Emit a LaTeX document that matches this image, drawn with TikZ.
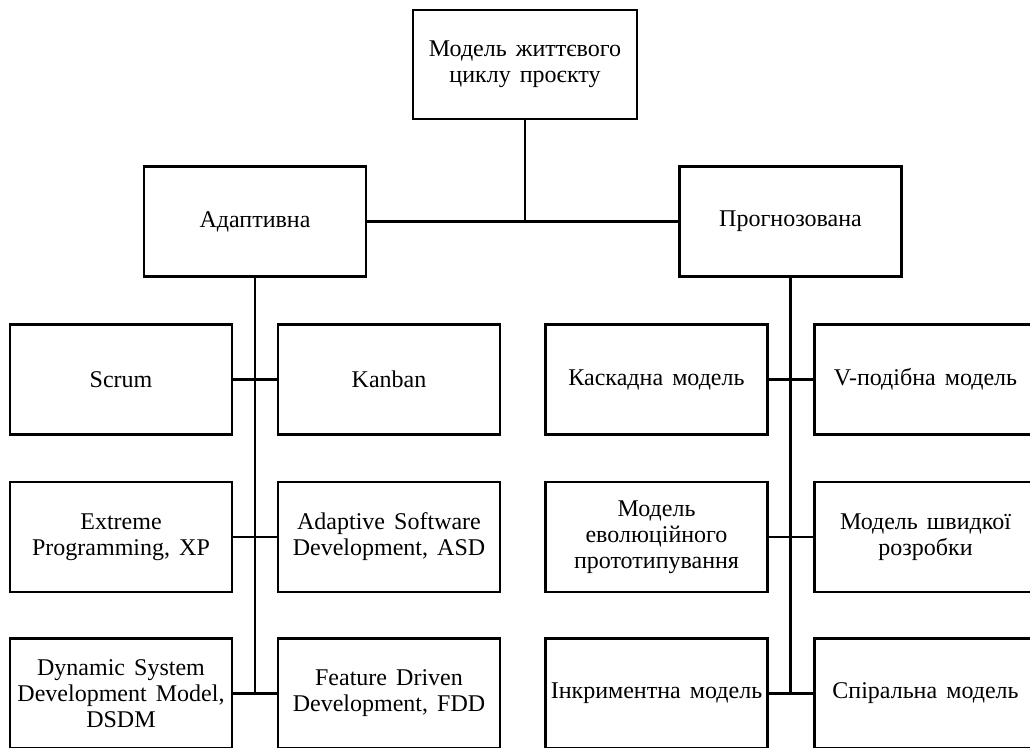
\documentclass[tikz,border=0pt]{standalone}
\usepackage{fontspec}
\setmainfont{Liberation Serif}
% box text: 24pt Times-like serif with slightly wider word gaps
\newcommand{\boxtextfont}{\fontsize{24}{26}\selectfont\spaceskip=0.38em plus 0.1em\relax}
\begin{document}
\begin{tikzpicture}[x=1pt,y=-1pt,
  box/.style={draw=black, line width=2.6pt, fill=white, minimum width=222pt,
    minimum height=110pt, align=center, inner sep=1pt,
    font=\boxtextfont},
  link/.style={draw=black, line width=2.6pt}]
\useasboundingbox (0,0) rectangle (1030,747);
\clip (0,0) rectangle (1030,747);

% root and the two branches
\node[box, minimum width=224pt, minimum height=109pt] (root) at (525,64.5) {Модель життєвого\\циклу проєкту};
\node[box] (adapt) at (255,221.5) {Адаптивна};
\node[box] (pred)  at (790.5,221.5) {Прогнозована};

% adaptive methods
\node[box] (scrum)  at (121,379.5) {Scrum};
\node[box] (kanban) at (389,379.5) {Kanban};
\node[box] (xp)     at (121,537) {Extreme\\Programming, XP};
\node[box] (asd)    at (389,537) {Adaptive Software\\Development, ASD};
\node[box] (dsdm)   at (121,693.5) {Dynamic System\\Development Model,\\DSDM};
\node[box] (fdd)    at (389,693.5) {Feature Driven\\Development, FDD};

% predictive models
\node[box] (casc)   at (656.5,379.5) {Каскадна модель};
\node[box] (vmod)   at (925.5,379.5) {V-подібна модель};
\node[box] (evol)   at (656.5,537) {Модель\\еволюційного\\прототипування};
\node[box] (rad)    at (925.5,537) {Модель швидкої\\розробки};
\node[box] (incr)   at (656.5,693.5) {Інкриментна модель};
\node[box] (spir)   at (925.5,693.5) {Спіральна модель};

% junction points
\coordinate (rootj) at (root.south |- adapt.east);
\coordinate (aend)  at (adapt.south |- dsdm.east);
\coordinate (pend)  at (pred.south |- incr.east);

% connectors
\draw[link] (root.south) -- (rootj);
\draw[link] (adapt.east) -- (pred.west);
\draw[link] (adapt.south) -- (aend);
\draw[link] (pred.south) -- (pend);
\draw[link] (scrum.east) -- (kanban.west);
\draw[link] (xp.east) -- (asd.west);
\draw[link] (dsdm.east) -- (fdd.west);
\draw[link] (casc.east) -- (vmod.west);
\draw[link] (evol.east) -- (rad.west);
\draw[link] (incr.east) -- (spir.west);
\end{tikzpicture}
\end{document}
